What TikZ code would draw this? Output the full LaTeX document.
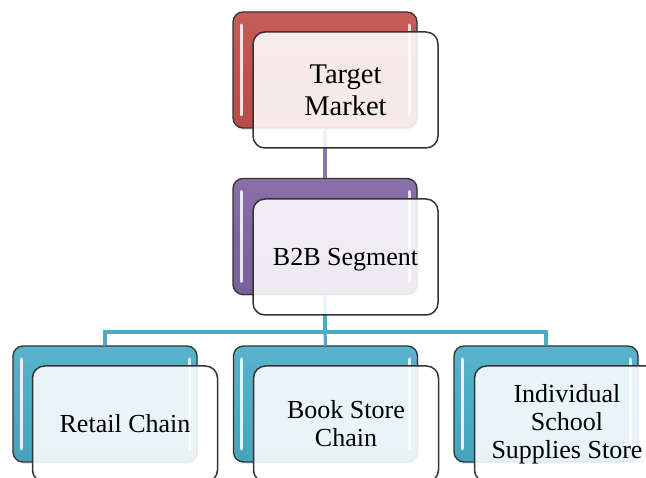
\documentclass[tikz,border=0pt]{standalone}
\usepackage{fontspec}
\setmainfont{Liberation Serif}
\usetikzlibrary{shadows}

\definecolor{accRed}{HTML}{C0504D}
\definecolor{accPurple}{HTML}{8064A2}
\definecolor{accTeal}{HTML}{4BACC6}
\definecolor{edgeGray}{HTML}{333333}

\tikzset{
  backbox/.style={
    draw=edgeGray, line width=1.3pt, rounded corners=10pt,
    minimum width=184pt, minimum height=116pt, inner sep=0pt,
    top color=#1!92!white, bottom color=#1!95!black, middle color=#1,
    drop shadow={opacity=0.2, shadow xshift=1pt, shadow yshift=-2pt},
    path picture={
      \draw[white, opacity=0.85, line width=3pt, line cap=round]
        ([xshift=8pt,yshift=-13pt]path picture bounding box.north west) --
        ([xshift=8pt,yshift=13pt]path picture bounding box.south west);
      \draw[white, opacity=0.8, line width=3pt, line cap=round]
        ([xshift=-8pt,yshift=-13pt]path picture bounding box.north east) --
        ([xshift=-8pt,yshift=13pt]path picture bounding box.south east);
    }
  },
  frontbox/.style={
    draw=edgeGray, line width=1.5pt, rounded corners=12pt,
    fill=white, fill opacity=0.88, text opacity=1,
    minimum width=185pt, minimum height=116pt, inner sep=2pt,
    align=center, font=\fontsize{26}{28}\selectfont
  },
  linkPurple/.style={draw=accPurple!90!white, line width=3.2pt},
  linkTeal/.style={draw=accTeal, line width=3.2pt}
}

\begin{document}
\begin{tikzpicture}[x=1pt, y=-1pt]
  \useasboundingbox (0,0) rectangle (646,478);
  \clip (0,0) rectangle (646,478);

  % back (coloured) cards
  \node[backbox=accRed]    (topB) at (325,70) {};
  \node[backbox=accPurple] (midB) at (325,236.5) {};
  \node[backbox=accTeal]   (leftB) at (105,404) {};
  \node[backbox=accTeal]   (centB) at (325.5,404) {};
  \node[backbox=accTeal]   (rightB) at (546,404) {};

  % hierarchy connectors
  \coordinate (bus) at (325,332);
  \draw[linkPurple] (topB.south) -- (midB.north);
  \draw[linkTeal] (midB.south) -- (bus);
  \draw[linkTeal] (leftB.north) |- (bus) -| (rightB.north);
  \draw[linkTeal] (bus) -- (centB.north);

  % front (text) cards
  \node[frontbox, font=\fontsize{28.5}{32}\selectfont] (topF) at (345.5,90) {Target\\Market};
  \node[frontbox, text depth=0pt] (midF) at (345.5,257) {B2B Segment};
  \node[frontbox] (leftF) at (125,424) {Retail Chain};
  \node[frontbox] (centF) at (346,424) {Book Store\\Chain};
  \node[frontbox] (rightF) at (567,424) {Individual\\School\\Supplies Store};
\end{tikzpicture}
\end{document}
